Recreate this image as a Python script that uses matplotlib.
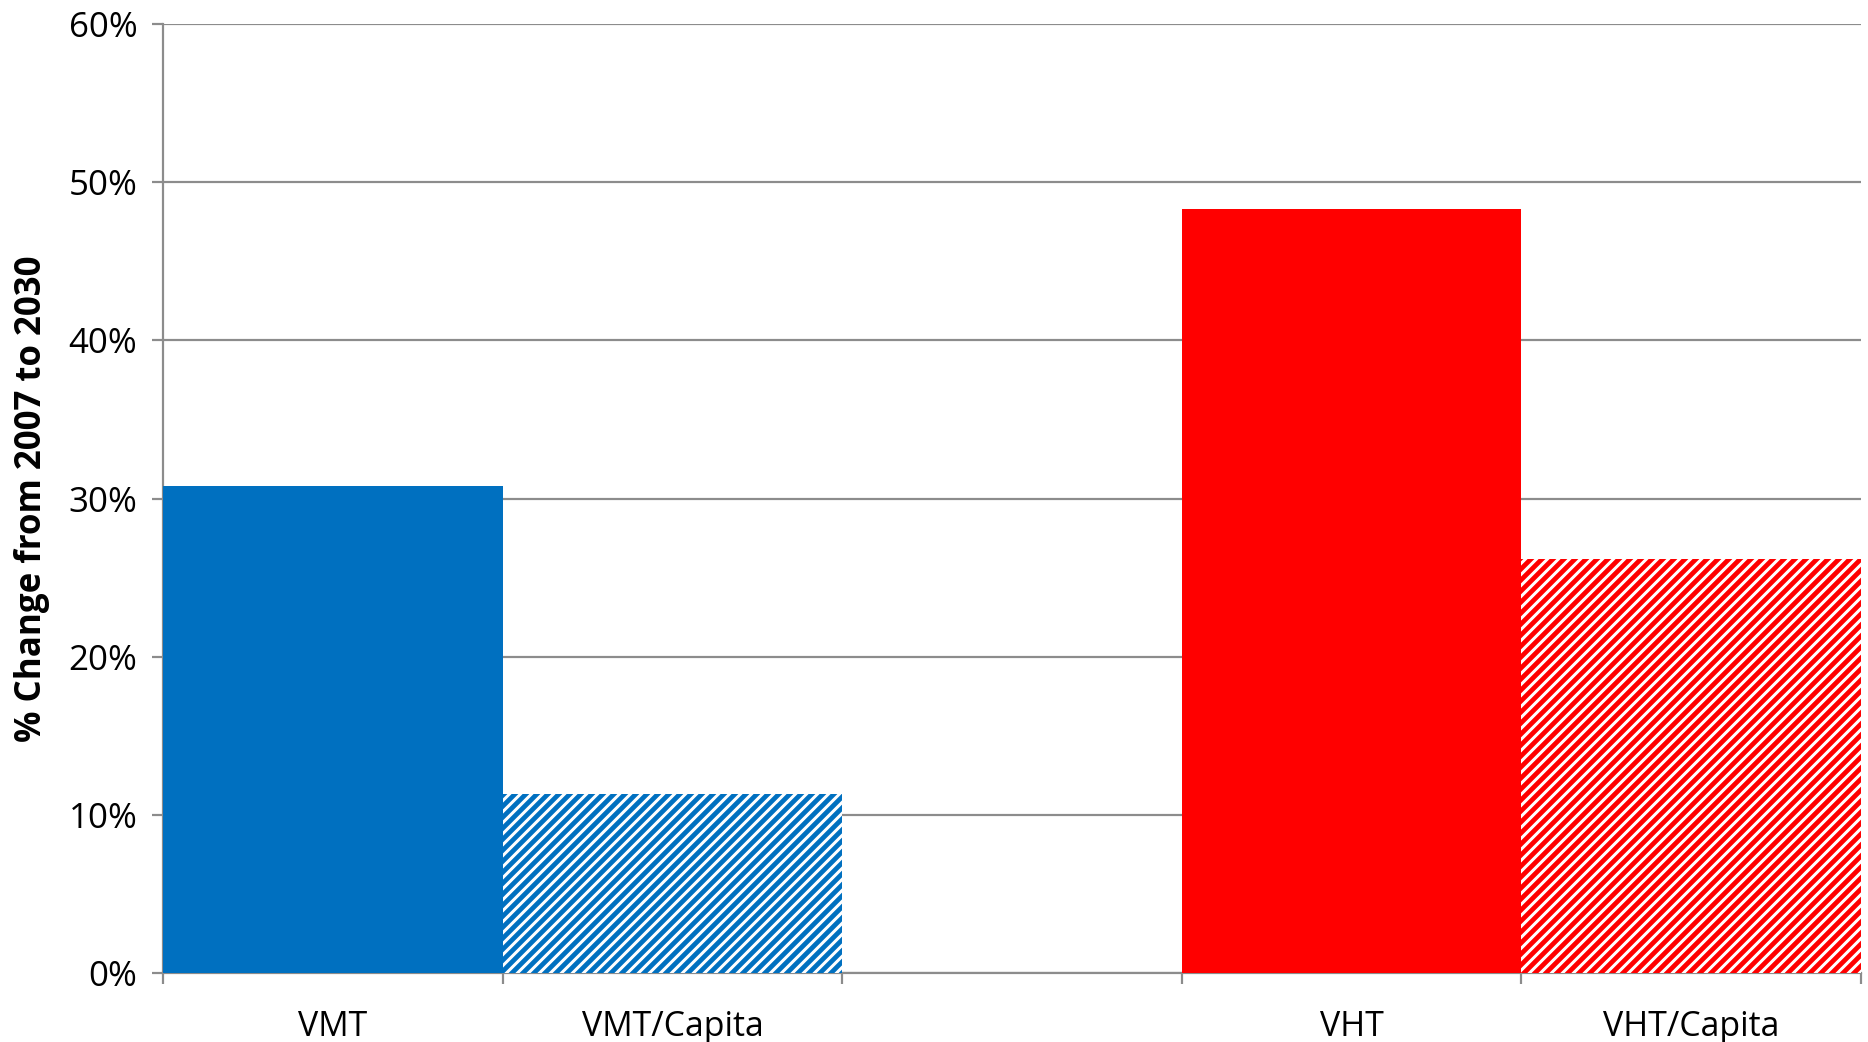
import numpy as np
import matplotlib.pyplot as plt
import matplotlib.ticker as mticker

# slot labels (third slot is an empty gap)
categories = ['VMT', 'VMT/Capita', '', 'VHT', 'VHT/Capita']
values = [30.8, 11.3, np.nan, 48.3, 26.2]
colors = ['#0070C0', '#0070C0', 'none', '#FF0000', '#FF0000']
hatches = [None, '////', None, None, '////']

DPI = 132
plt.rcParams['font.family'] = ['Open Sans', 'DejaVu Sans']
plt.rcParams['hatch.linewidth'] = 2.6

fig = plt.figure(figsize=(1868 / DPI, 1042 / DPI), dpi=DPI)
ax = fig.add_axes([163 / 1868, 1 - 973 / 1042, (1861 - 163) / 1868, (973 - 24) / 1042])

x = np.arange(len(categories))
for xi, v, c, h in zip(x, values, colors, hatches):
    if np.isnan(v):
        continue
    if h:
        ax.bar(xi, v, width=1.0, facecolor='white', edgecolor=c, hatch=h,
               linewidth=0, zorder=3)
    else:
        ax.bar(xi, v, width=1.0, color=c, linewidth=0, zorder=3)

ax.set_xlim(-0.5, len(categories) - 0.5)
ax.set_ylim(0, 60)
ax.yaxis.set_major_locator(mticker.MultipleLocator(10))
ax.yaxis.set_major_formatter(mticker.FuncFormatter(lambda v, p: f'{v:.0f}%'))
ax.grid(axis='y', color='#8c8c8c', linewidth=1.2, zorder=0)

# category boundary ticks, labels centred in slots
ax.set_xticks(np.arange(len(categories) + 1) - 0.5)
ax.set_xticklabels([])
ax.set_xticks(x, minor=True)
ax.set_xticklabels(categories, minor=True)
ax.tick_params(axis='x', which='minor', length=0, pad=20, labelsize=18.5)
ax.tick_params(axis='x', which='major', length=6, width=1.2, color='#8c8c8c')
ax.tick_params(axis='y', length=6, width=1.2, color='#8c8c8c', labelsize=19, pad=8)

for s in ['top', 'right']:
    ax.spines[s].set_visible(False)
for s in ['left', 'bottom']:
    ax.spines[s].set_color('#8c8c8c')
    ax.spines[s].set_linewidth(1.2)

ax.set_ylabel('% Change from 2007 to 2030', fontsize=19, fontweight='bold', labelpad=10)

fig.savefig('out.png', dpi=DPI)
